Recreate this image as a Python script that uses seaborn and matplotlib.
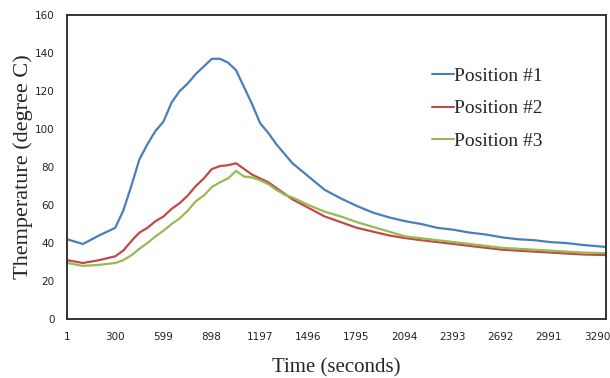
import numpy as np
import pandas as pd
import matplotlib
matplotlib.use("Agg")
import matplotlib.pyplot as plt
import seaborn as sns

time_s = [1, 100, 200, 300, 350, 400, 450, 500, 550, 600, 650, 700, 750, 800,
          850, 900, 950, 1000, 1050, 1100, 1150, 1200, 1250, 1300, 1350, 1400,
          1500, 1600, 1700, 1800, 1900, 2000, 2100, 2200, 2300, 2400, 2500,
          2600, 2700, 2800, 2900, 3000, 3100, 3200, 3340]

pos1 = [42, 39.5, 44, 48, 57, 70, 84, 92, 99, 104, 114, 120, 124, 129,
        133, 137, 137, 135, 131, 122, 113, 103, 98, 92, 87, 82,
        75, 68, 63.5, 59.5, 56, 53.5, 51.5, 50, 48, 47, 45.5,
        44.5, 43, 42, 41.5, 40.5, 40, 39, 38]

pos2 = [31, 29.5, 31, 33, 36, 41, 45.5, 48, 51.5, 54, 58, 61, 65, 70,
        74, 79, 80.5, 81, 82, 79, 76, 74, 72, 69, 66, 63,
        58.5, 54, 51, 48, 46, 44, 42.6, 41.5, 40.5, 39.5, 38.5,
        37.5, 36.5, 36, 35.5, 35, 34.5, 34, 33.7]

pos3 = [29.5, 28, 28.5, 29.5, 31, 33.5, 37, 40, 43.5, 46.5, 50, 53, 57, 62,
        65, 69.5, 72, 74, 78, 75, 74.5, 73, 71, 68, 65.5, 64,
        60, 56.5, 54, 51, 48.5, 46, 43.5, 42.5, 41.5, 40.5, 39.5,
        38.5, 37.5, 37, 36.5, 36, 35.5, 35, 34.7]

labels = ["Position #1", "Position #2", "Position #3"]
colors = ["#4A7EBB", "#BE4B48", "#98B954"]
xticks = [1, 300, 599, 898, 1197, 1496, 1795, 2094, 2393, 2692, 2991, 3290]
yticks = [0, 20, 40, 60, 80, 100, 120, 140, 160]

df = pd.concat([
    pd.DataFrame({"time": time_s, "temp": vals, "pos": lab})
    for vals, lab in zip([pos1, pos2, pos3], labels)
])

sns.set_style("white")

fig = plt.figure(figsize=(6.1, 3.78), dpi=100)
ax = fig.add_axes([0.1098, 0.156, 0.8836, 0.804])

sns.lineplot(data=df, x="time", y="temp", hue="pos", palette=colors,
             linewidth=1.6, ax=ax)

ax.set_xlim(1, 3345)
ax.set_ylim(0, 160)
ax.set_xticks(xticks)
ax.set_yticks(yticks)
ax.tick_params(axis="both", length=0, labelsize=7.5, colors="#222222")
ax.tick_params(axis="x", pad=9)
ax.tick_params(axis="y", pad=9)

for s in ax.spines.values():
    s.set_color("#333333")
    s.set_linewidth(1.4)

serif = "Liberation Serif"
ax.set_xlabel("Time (seconds)", fontsize=15, family=serif, labelpad=12)
ax.set_ylabel("Themperature (degree C)", fontsize=16, family=serif, labelpad=1)

leg = ax.legend(loc="upper left", bbox_to_anchor=(0.645, 0.885), frameon=False,
                prop={"family": serif, "size": 14}, handlelength=1.1,
                handletextpad=0.05, labelspacing=0.75)
for line in leg.get_lines():
    line.set_linewidth(1.5)

fig.savefig("out.png", dpi=100)
